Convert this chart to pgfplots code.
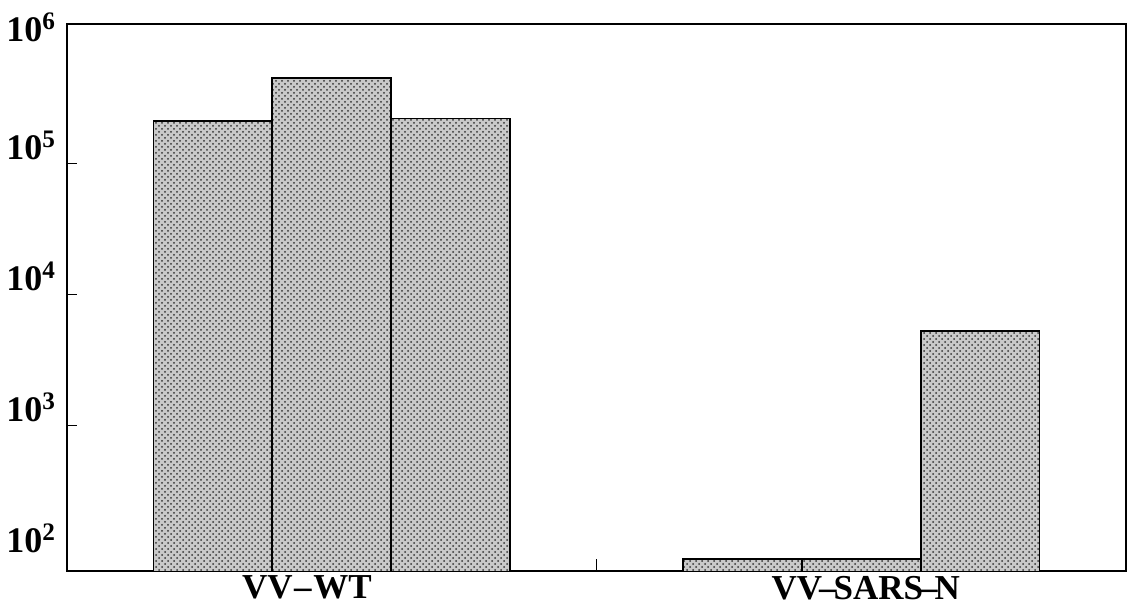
\documentclass[border=0pt]{standalone}
\usepackage{fontspec}
\setmainfont{Liberation Serif}
\usepackage{pgfplots}
\pgfplotsset{compat=1.18}
\usetikzlibrary{patterns}
\begin{document}
\begin{tikzpicture}
\useasboundingbox (-33.5pt,-22pt) rectangle (531pt,285.5pt);
\begin{axis}[
  scale only axis, width=529.5pt, height=273.5pt,
  ymode=log, ymin=77.6, ymax=1.16e6,
  xmin=-0.5, xmax=1.5,
  ybar=0pt, bar width=0.2244,
  axis line style={line width=1pt},
  tick pos=left, tick align=inside,
  major tick length=5pt,
  tick style={line width=0.9pt, black},
  xtick={0.5}, xticklabels={},
  major x tick style={/pgfplots/major tick length=6pt},
  extra x ticks={-0.047,1.0085},
  extra x tick labels={VV\kern0.8pt--\kern0.8pt WT,VV\kern-1.5pt--\kern-1.5pt SARS\kern-1.5pt--\kern-1.5pt N},
  extra x tick style={major tick length=0pt},
  xticklabel style={font=\fontsize{17.5}{17.5}\selectfont\bfseries, yshift=1pt},
  ytick={1e3,1e4,1e5},
  yticklabels={\textbf{10\textsuperscript{3}},\textbf{10\textsuperscript{4}},\textbf{10\textsuperscript{5}}},
  extra y ticks={1e2,8.0e5},
  extra y tick labels={\textbf{10\textsuperscript{2}},\textbf{10\textsuperscript{6}}},
  extra y tick style={major tick length=0pt},
  yticklabel style={font=\fontsize{18}{18}\selectfont, yshift=9pt, xshift=-2pt},
  yminorticks=false,
  barstyle/.style={draw=black, line width=0.9pt, fill=gray!42, postaction={pattern=crosshatch dots, pattern color=black!80}},
]
\addplot[barstyle] coordinates {(0,2.1e5) (1,96)};
\addplot[barstyle] coordinates {(0,4.5e5) (1,96)};
\addplot[barstyle] coordinates {(0,2.2e5) (1,5300)};
\end{axis}
\end{tikzpicture}
\end{document}
